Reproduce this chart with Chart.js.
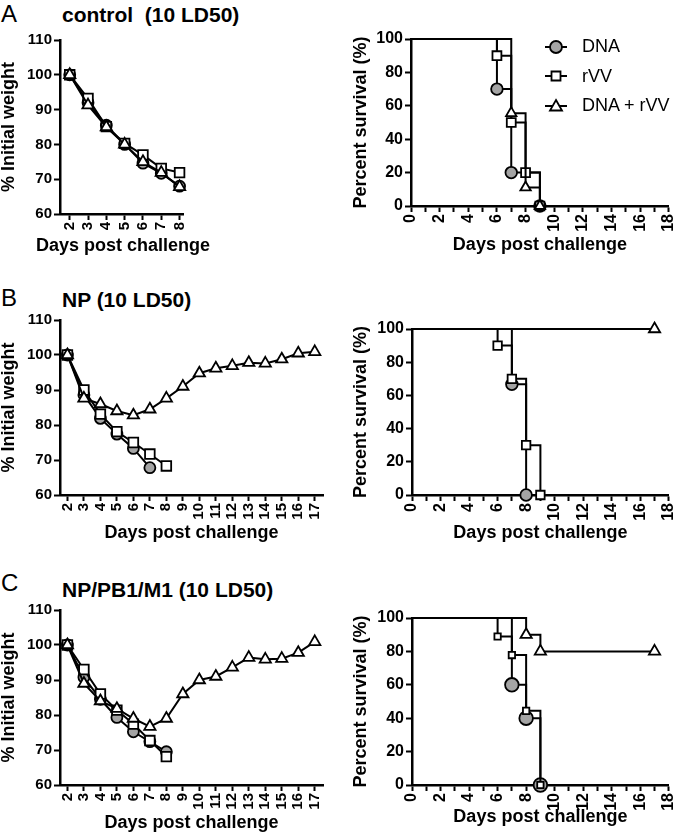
<!DOCTYPE html>
<html>
<head>
<meta charset="utf-8">
<script src="https://cdn.jsdelivr.net/npm/chart.js@4.4.1/dist/chart.umd.min.js"></script>
<style>
  html, body { margin: 0; padding: 0; background: #fff; }
  body { width: 680px; height: 836px; position: relative; overflow: hidden;
         font-family: "Liberation Sans", Arial, sans-serif; color: #000; }
  canvas.plot { position: absolute; }
  .letter { position: absolute; left: 1px; font-size: 24px; line-height: 24px; }
  .title { position: absolute; left: 62px; font-size: 21px; font-weight: bold; line-height: 21px; white-space: pre; }
  .xtitle { position: absolute; width: 200px; text-align: center; font-size: 18px; font-weight: bold; line-height: 18px; }
  .legend { position: absolute; left: 543px; top: 32px; font-size: 18px; z-index: 2; }
  .legend div { height: 29.5px; display: flex; align-items: center; }
  .legend canvas { margin-right: 13px; }
</style>
</head>
<body>

<div class="letter" style="top:2px">A</div>
<div class="title" style="top:4px">control  (10 LD50)</div>
<div class="letter" style="top:286px">B</div>
<div class="title" style="top:289px">NP (10 LD50)</div>
<div class="letter" style="top:571px">C</div>
<div class="title" style="top:579px">NP/PB1/M1 (10 LD50)</div>

<canvas class="plot" id="weightA" width="202" height="228" style="left:-2px; top:28px"></canvas>
<canvas class="plot" id="survA" width="340" height="229" style="left:350px; top:27px"></canvas>
<canvas class="plot" id="weightB" width="340" height="236" style="left:-2px; top:308px"></canvas>
<canvas class="plot" id="survB" width="340" height="227" style="left:350px; top:317px"></canvas>
<canvas class="plot" id="weightC" width="340" height="236" style="left:-2px; top:598px"></canvas>
<canvas class="plot" id="survC" width="340" height="222" style="left:350px; top:606px"></canvas>

<!-- the short panel A axis is narrower than its title, so it sits outside the canvas -->
<div class="xtitle" style="left:23px; top:236px">Days post challenge</div>

<div class="legend">
  <div><canvas id="legDna" width="26" height="20"></canvas>DNA</div>
  <div><canvas id="legRvv" width="26" height="20"></canvas>rVV</div>
  <div><canvas id="legCombo" width="26" height="20"></canvas>DNA + rVV</div>
</div>

<script>
// weight curves (% initial weight), one value per day
const daysA = [2, 3, 4, 5, 6, 7, 8];
const weightA_dna = [100, 92, 85.5, 80, 74.6, 71.7, 68];
const weightA_rvv = [100, 93.2, 85.1, 80.3, 77, 73.1, 71.9];
const weightA_combo = [100, 91.3, 85, 80, 75, 71.9, 67.8];

const daysLong = [2, 3, 4, 5, 6, 7, 8, 9, 10, 11, 12, 13, 14, 15, 16, 17];
const weightB_dna = [100, 88.6, 81.9, 77.4, 73.3, 67.8];
const weightB_rvv = [100, 90, 83.1, 78.1, 75, 71.7, 68.3];
const weightB_combo = [100, 87.6, 86, 84, 82.8, 84.5, 87.6, 91, 94.8, 96.2, 96.9, 97.8, 97.6, 98.8, 100.5, 100.9];

const weightC_dna = [100, 90.8, 84.5, 79.3, 75.2, 72.4, 69.5];
const weightC_rvv = [100, 93, 86, 81.4, 77.4, 72.7, 68.1];
const weightC_combo = [100, 89, 84, 81.8, 79, 76.7, 79, 86, 90, 91, 93.6, 96.4, 95.9, 96.1, 97.8, 100.9];

// survival curves (Kaplan-Meier steps): day of each step and % surviving after it
const survA_dnaDays = [0, 6, 7, 9];
const survA_dna = [100, 70, 20, 0];
const survA_rvvDays = [0, 6, 7, 8, 9];
const survA_rvv = [100, 90, 50, 20, 0];
const survA_comboDays = [0, 7, 8, 9];
const survA_combo = [100, 55.6, 11.1, 0];

const survB_dnaDays = [0, 7, 8];
const survB_dna = [100, 66.7, 0];
const survB_rvvDays = [0, 6, 7, 8, 9];
const survB_rvv = [100, 90, 70, 30, 0];
const survB_comboDays = [0, 17];
const survB_combo = [100, 100];

const survC_dnaDays = [0, 7, 8, 9];
const survC_dna = [100, 60, 40, 0];
const survC_rvvDays = [0, 6, 7, 8, 9];
const survC_rvv = [100, 88.9, 77.8, 44.4, 0];
const survC_comboDays = [0, 8, 9, 17];
const survC_combo = [100, 90, 80, 80];

// axis ticks
const weightTicks = [60, 70, 80, 90, 100, 110];
const survivalTicks = [0, 20, 40, 60, 80, 100];
const survivalDayTicks = [0, 1, 2, 3, 4, 5, 6, 7, 8, 9, 10, 11, 12, 13, 14, 15, 16, 17, 18];

const FONT = '"Liberation Sans", Arial, sans-serif';
Chart.defaults.font.family = FONT;
Chart.defaults.color = '#000';

const GREY = '#a4a4a4';

function pts(xs, ys) {
  return ys.map((y, i) => ({ x: xs[i], y: y }));
}

// one curve; km = true for step (survival) curves, where the start point has no marker
function curve(data, style, fill, radius, km) {
  return {
    data: data,
    borderColor: '#000',
    borderWidth: 2,
    pointStyle: style,
    pointBackgroundColor: fill,
    pointBorderColor: '#000',
    pointBorderWidth: 1.8,
    pointRadius: km ? (c => c.dataIndex === 0 ? 0 : radius) : radius,
    stepped: km ? 'before' : false,
    tension: 0,
    fill: false,
    clip: false
  };
}

function axis(o) {
  return {
    type: 'linear',
    min: o.min,
    max: o.max,
    afterBuildTicks: s => { s.ticks = o.ticks.map(v => ({ value: v })); },
    afterFit: o.fit,
    ticks: {
      autoSkip: false,
      padding: 2,
      minRotation: o.rot,
      maxRotation: o.rot,
      font: { size: o.size, weight: 'bold' },
      color: '#000',
      callback: o.label || (v => String(v))
    },
    grid: { display: true, drawOnChartArea: false, drawTicks: true, tickLength: 6, tickWidth: 2, tickColor: '#000' },
    border: { display: true, color: '#000', width: 2.5 },
    title: { display: o.title !== '', text: o.title, font: { size: 18, weight: 'bold' }, color: '#000', padding: 0 }
  };
}

function makeChart(id, datasets, x, y, padRight) {
  new Chart(document.getElementById(id), {
    type: 'line',
    data: { datasets: datasets },
    options: {
      responsive: false,
      animation: false,
      events: [],
      layout: { padding: { top: 12, right: padRight, bottom: 0, left: 0 } },
      plugins: { legend: { display: false }, tooltip: { enabled: false } },
      scales: { x: x, y: y }
    }
  });
}

function weightChart(id, days, dna, rvv, combo, xMin, xMax, xTitle, xHeight, padRight) {
  makeChart(id, [
    curve(pts(days, combo), 'triangle', '#fff', 6.5, false),
    curve(pts(days, rvv), 'rect', '#fff', 6.8, false),
    curve(pts(days, dna), 'circle', GREY, 5.5, false)
  ],
  axis({ min: xMin, max: xMax, ticks: days, rot: 90, size: 15, title: xTitle,
         fit: s => { s.height = xHeight; } }),
  axis({ min: 60, max: 110, ticks: weightTicks, rot: 0, size: 15, title: '% Initial weight',
         fit: s => { s.width = 62; } }),
  padRight);
}

function survivalChart(id, dna, rvv, combo, sizes, yWidth, xHeight) {
  makeChart(id, [
    curve(combo, 'triangle', '#fff', sizes[2], true),
    curve(rvv, 'rect', '#fff', sizes[1], true),
    curve(dna, 'circle', GREY, sizes[0], true)
  ],
  axis({ min: 0, max: 18, ticks: survivalDayTicks, rot: 90, size: 16, title: 'Days post challenge',
         label: v => (v % 2 === 0 ? String(v) : ''), fit: s => { s.height = xHeight; } }),
  axis({ min: 0, max: 100, ticks: survivalTicks, rot: 0, size: 16, title: 'Percent survival (%)',
         fit: s => { s.width = yWidth; } }),
  17);
}

weightChart('weightA', daysA, weightA_dna, weightA_rvv, weightA_combo, 1.47, 8.22, '', 42, 13);
weightChart('weightB', daysLong, weightB_dna, weightB_rvv, weightB_combo, 1.55, 17.5, 'Days post challenge', 49, 15);
weightChart('weightC', daysLong, weightC_dna, weightC_rvv, weightC_combo, 1.55, 17.5, 'Days post challenge', 49, 15);

survivalChart('survA', pts(survA_dnaDays, survA_dna), pts(survA_rvvDays, survA_rvv),
  pts(survA_comboDays, survA_combo), [5.8, 6.3, 6], 61, 50);
survivalChart('survB', pts(survB_dnaDays, survB_dna), pts(survB_rvvDays, survB_rvv),
  pts(survB_comboDays, survB_combo), [5.8, 6, 6.5], 62, 49);
survivalChart('survC', pts(survC_dnaDays, survC_dna), pts(survC_rvvDays, survC_rvv),
  pts(survC_comboDays, survC_combo), [6.8, 4.5, 6.5], 62, 43);

// legend symbols: short line with the marker on it
function legendSymbol(id, kind) {
  const ctx = document.getElementById(id).getContext('2d');
  ctx.strokeStyle = '#000';
  ctx.lineWidth = 2;
  ctx.beginPath();
  ctx.moveTo(2, 10);
  ctx.lineTo(24, 10);
  ctx.stroke();
  ctx.lineWidth = 1.8;
  ctx.beginPath();
  if (kind === 'circle') {
    ctx.fillStyle = GREY;
    ctx.arc(13, 10, 6, 0, Math.PI * 2);
  } else if (kind === 'rect') {
    ctx.fillStyle = '#fff';
    ctx.rect(8.5, 5.5, 9, 9);
  } else {
    ctx.fillStyle = '#fff';
    ctx.moveTo(13, 4);
    ctx.lineTo(19, 14.5);
    ctx.lineTo(7, 14.5);
    ctx.closePath();
  }
  ctx.fill();
  ctx.stroke();
}
legendSymbol('legDna', 'circle');
legendSymbol('legRvv', 'rect');
legendSymbol('legCombo', 'triangle');
</script>
</body>
</html>
